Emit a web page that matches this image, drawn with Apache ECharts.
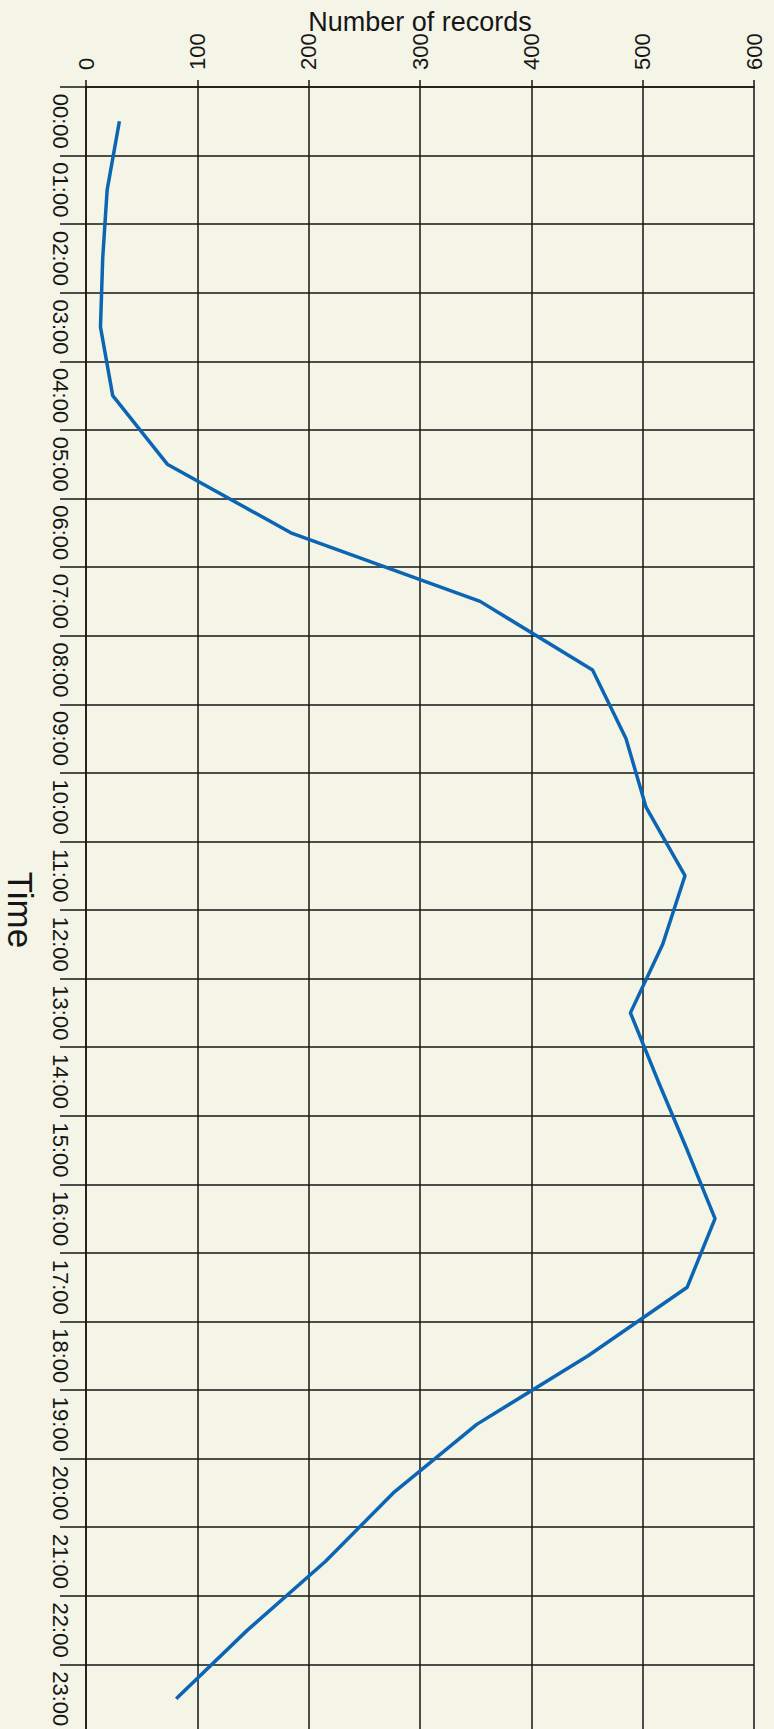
<!DOCTYPE html>
<html>
<head>
<meta charset="utf-8">
<style>
  html, body { margin: 0; padding: 0; background: #f4f4e7; }
  #chart { width: 774px; height: 1729px; }
</style>
<script src="https://cdn.jsdelivr.net/npm/echarts@6/dist/echarts.min.js"></script>
</head>
<body>
<div id="chart"></div>
<script>
const hours = ['00:00','01:00','02:00','03:00','04:00','05:00','06:00','07:00','08:00','09:00','10:00','11:00',
               '12:00','13:00','14:00','15:00','16:00','17:00','18:00','19:00','20:00','21:00','22:00','23:00'];
const records = [30, 19, 15, 13, 24, 73, 184, 354, 455, 485, 503, 538, 518, 489, 514, 540, 565, 540, 451, 351, 276, 215, 145, 81];
const valueAxisName = 'Number of records';
const timeAxisName = 'Time';

const chart = echarts.init(document.getElementById('chart'), null, { renderer: 'svg' });
const font = 'Liberation Sans, Arial, sans-serif';
const ink = '#161616';
chart.setOption({
  backgroundColor: '#f4f4e7',
  animation: false,
  grid: { left: 86, right: 20, top: 87, height: 1646, containLabel: false, outerBoundsMode: 'none' },
  xAxis: {
    type: 'value',
    position: 'top',
    min: 0, max: 600, interval: 100,
    name: valueAxisName,
    nameLocation: 'middle',
    nameGap: 52,
    nameMoveOverlap: false,
    nameTextStyle: { fontFamily: font, fontSize: 27, color: ink },
    axisLine: { show: true, lineStyle: { color: ink, width: 1.5 } },
    axisTick: { show: true, length: 7, lineStyle: { color: ink, width: 1.5 } },
    axisLabel: { rotate: -90, margin: 17, fontFamily: font, fontSize: 22, color: ink },
    splitLine: { show: true, lineStyle: { color: ink, width: 1.5 } }
  },
  yAxis: {
    type: 'category',
    data: hours,
    inverse: true,
    boundaryGap: true,
    name: timeAxisName,
    nameLocation: 'middle',
    nameRotate: -90,
    nameGap: 48,
    nameMoveOverlap: false,
    nameTextStyle: { fontFamily: font, fontSize: 35, color: ink },
    axisLine: { show: true, lineStyle: { color: ink, width: 1.5 } },
    axisTick: { show: true, length: 26, interval: 0, lineStyle: { color: ink, width: 1.5 } },
    axisLabel: { rotate: -90, margin: 15, interval: 0, fontFamily: font, fontSize: 22, color: ink },
    splitLine: { show: true, interval: 0, lineStyle: { color: ink, width: 1.5 } }
  },
  series: [{
    type: 'line',
    data: records,
    showSymbol: false,
    symbol: 'none',
    lineStyle: { color: '#0b65b3', width: 3.5 }
  }]
});
</script>
</body>
</html>
